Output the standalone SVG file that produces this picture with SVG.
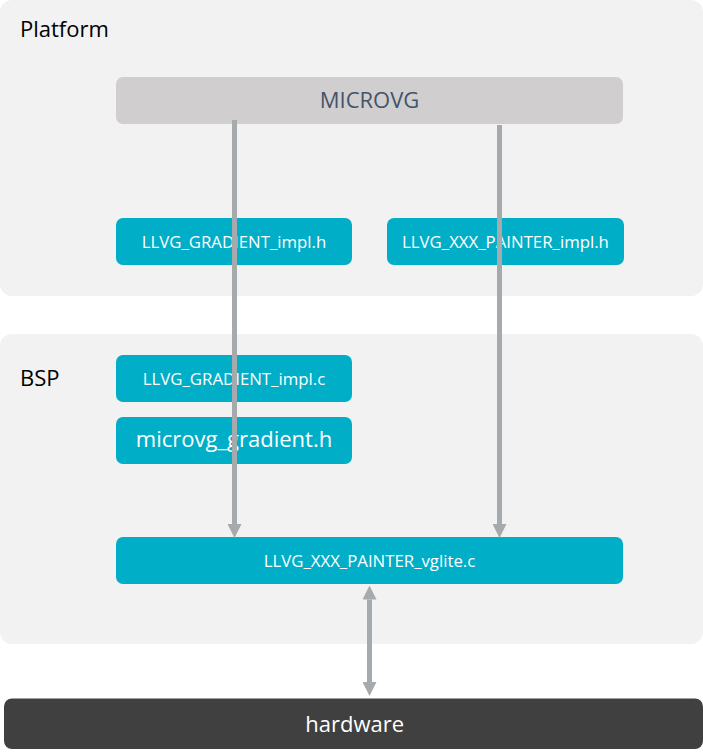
<svg xmlns="http://www.w3.org/2000/svg" width="703" height="754" viewBox="0 0 703 754">
<defs>
<style>
.container{fill:#f2f2f2}
.title{font-family:"Open Sans","Noto Sans",sans-serif;font-size:22px;fill:#000}
.box{fill:#00aec7}
.boxtxt{font-family:"Open Sans","Noto Sans",sans-serif;font-size:16.8px;fill:#fff;text-anchor:middle}
.big{font-family:"Open Sans","Noto Sans",sans-serif;font-size:22px;text-anchor:middle}
.conn{stroke:#a6aaad;stroke-width:5;fill:none}
</style>
<marker id="ah" markerUnits="userSpaceOnUse" markerWidth="14" markerHeight="14" refX="0" refY="7" orient="auto-start-reverse" viewBox="0 0 14 14">
<path d="M0,0 L14,7 L0,14 z" fill="#a6aaad"/>
</marker>
</defs>
<rect width="703" height="754" fill="#fff"/>
<g id="platform">
<rect class="container" x="0" y="0" width="703" height="296" rx="12"/>
<text class="title" x="20" y="36.5">Platform</text>
</g>
<g id="bsp">
<rect class="container" x="0" y="334" width="703" height="310" rx="12"/>
<text class="title" x="20" y="385.5">BSP</text>
</g>
<g id="microvg">
<rect x="116" y="77" width="507" height="47" rx="7" fill="#d0cecf"/>
<text class="big" x="369.5" y="108.3" fill="#44546a">MICROVG</text>
</g>
<g id="gradient_impl_h">
<rect class="box" x="116" y="218" width="236" height="47" rx="7"/>
<text class="boxtxt" x="234" y="248.3">LLVG_GRADIENT_impl.h</text>
</g>
<g id="painter_impl_h">
<rect class="box" x="387" y="218" width="237" height="47" rx="7"/>
<text class="boxtxt" x="505.5" y="248.3">LLVG_XXX_PAINTER_impl.h</text>
</g>
<g id="gradient_impl_c">
<rect class="box" x="116" y="355" width="236" height="47" rx="7"/>
<text class="boxtxt" x="234" y="385.3">LLVG_GRADIENT_impl.c</text>
</g>
<g id="microvg_gradient_h">
<rect class="box" x="116" y="417" width="236" height="47" rx="7"/>
<text class="big" x="234" y="446.5" fill="#fff">microvg_gradient.h</text>
</g>
<g id="painter_vglite_c">
<rect class="box" x="116" y="537" width="507" height="47" rx="7"/>
<text class="boxtxt" x="369.5" y="567.3">LLVG_XXX_PAINTER_vglite.c</text>
</g>
<g id="hardware">
<rect x="4" y="698.5" width="699" height="50.5" rx="8" fill="#404040"/>
<text class="big" x="354.7" y="732.3" fill="#fff" font-size="21.4">hardware</text>
</g>
<g id="connectors">
<line class="conn" x1="234.5" y1="120" x2="234.5" y2="524" marker-end="url(#ah)"/>
<line class="conn" x1="499.5" y1="125" x2="499.5" y2="524" marker-end="url(#ah)"/>
<line class="conn" x1="369.5" y1="599.5" x2="369.5" y2="682" marker-start="url(#ah)" marker-end="url(#ah)"/>
</g>
</svg>
